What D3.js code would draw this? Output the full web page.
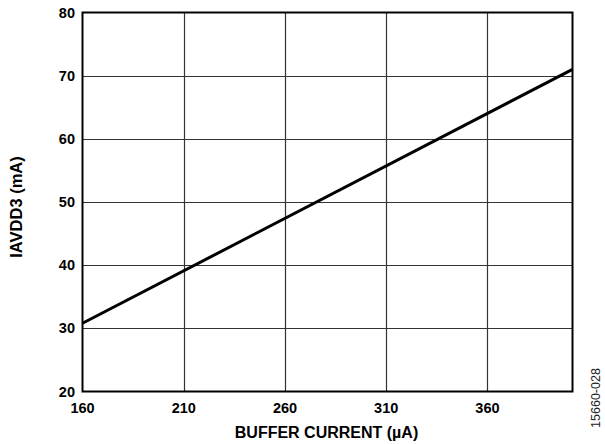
<!DOCTYPE html>
<html><head><meta charset="utf-8">
<script src="https://cdn.jsdelivr.net/npm/d3@7"></script>
<style>body{margin:0;background:#fff}svg{display:block}text{font-family:"Liberation Sans",Arial,sans-serif}</style>
</head><body>
<svg id="c" width="605" height="444"></svg>
<script>
const xTicks = [160, 210, 260, 310, 360];
const yTicks = [20, 30, 40, 50, 60, 70, 80];
const bufferCurrent = [160, 402];
const iavdd3 = [30.8, 71.0];
const xTitle = "BUFFER CURRENT (µA)";
const yTitle = "IAVDD3 (mA)";
const figId = "15660-028";

const svg = d3.select("#c");
const L = 82.5, R = 572.5, T = 12.5, B = 391.5;
const x = d3.scaleLinear().domain([160, 402]).range([L, R]);
const y = d3.scaleLinear().domain([20, 80]).range([B, T]);

const g = svg.append("g");
// grid
g.selectAll(".vg").data(xTicks.slice(1)).enter().append("line")
  .attr("x1", d => Math.round(x(d)) + 0.5).attr("x2", d => Math.round(x(d)) + 0.5)
  .attr("y1", T).attr("y2", B).attr("stroke", "#333").attr("stroke-width", 1.2);
g.selectAll(".hg").data(yTicks.slice(1, -1)).enter().append("line")
  .attr("y1", d => Math.round(y(d)) + 0.5).attr("y2", d => Math.round(y(d)) + 0.5)
  .attr("x1", L).attr("x2", R).attr("stroke", "#333").attr("stroke-width", 1.2);

// data line
const line = d3.line().x((d, i) => x(bufferCurrent[i])).y(d => y(d));
g.append("path").datum(iavdd3).attr("d", line)
  .attr("fill", "none").attr("stroke", "#000").attr("stroke-width", 3);

// border
g.append("rect").attr("x", L).attr("y", T).attr("width", R - L).attr("height", B - T)
  .attr("fill", "none").attr("stroke", "#000").attr("stroke-width", 2);

// x tick labels
g.selectAll(".xt").data(xTicks).enter().append("text")
  .attr("x", d => x(d)).attr("y", 413).attr("text-anchor", "middle")
  .attr("font-size", 14.5).attr("font-weight", "bold").text(d => d);
// y tick labels
g.selectAll(".yt").data(yTicks).enter().append("text")
  .attr("x", 75).attr("y", d => y(d) + 5).attr("text-anchor", "end")
  .attr("font-size", 14.5).attr("font-weight", "bold").text(d => d);

// titles
svg.append("text").attr("x", (L + R) / 2 - 1).attr("y", 438).attr("text-anchor", "middle")
  .attr("font-size", 16).attr("font-weight", "bold").text(xTitle);
svg.append("text").attr("transform", `translate(22,${(T + B) / 2 + 5}) rotate(-90)`)
  .attr("text-anchor", "middle").attr("font-size", 16.5).attr("font-weight", "bold").text(yTitle);
svg.append("text").attr("transform", "translate(600,398) rotate(-90)")
  .attr("text-anchor", "middle").attr("font-size", 12.5).attr("fill", "#222").text(figId);
</script>
</body></html>
